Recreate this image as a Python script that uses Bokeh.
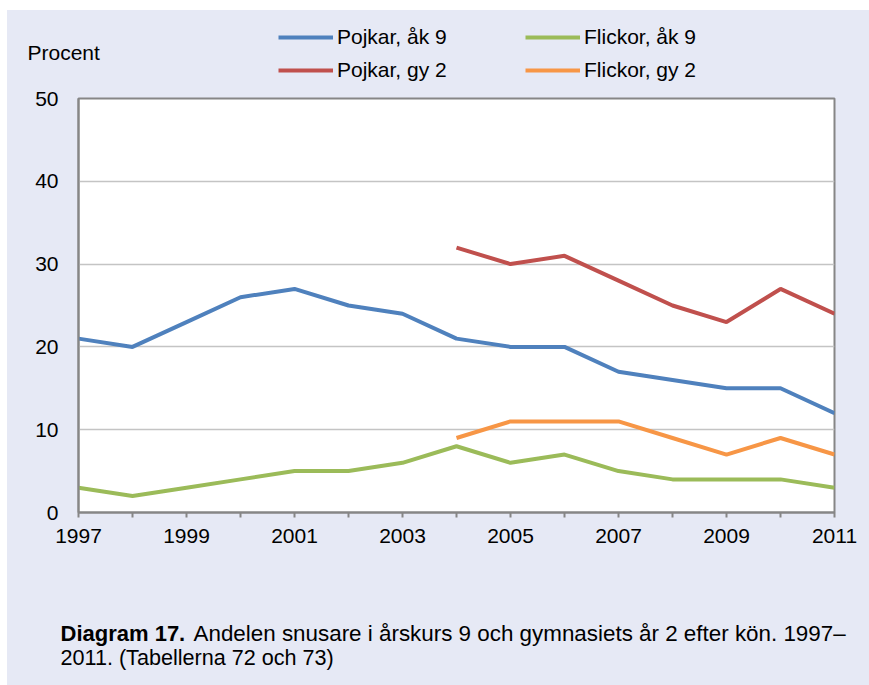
from bokeh.plotting import figure
from bokeh.layouts import column
from bokeh.models import Range1d, FixedTicker, Legend, LegendItem, Label
from bokeh.embed import file_html
from bokeh.resources import INLINE

years = [1997, 1998, 1999, 2000, 2001, 2002, 2003, 2004, 2005, 2006, 2007, 2008, 2009, 2010, 2011]
pojkar_ak9 = [21, 20, 23, 26, 27, 25, 24, 21, 20, 20, 17, 16, 15, 15, 12]
flickor_ak9 = [3, 2, 3, 4, 5, 5, 6, 8, 6, 7, 5, 4, 4, 4, 3]
years_gy = [2004, 2005, 2006, 2007, 2008, 2009, 2010, 2011]
pojkar_gy2 = [32, 30, 31, 28, 25, 23, 27, 24]
flickor_gy2 = [9, 11, 11, 11, 9, 7, 9, 7]

x_major = [1997, 1999, 2001, 2003, 2005, 2007, 2009, 2011]
x_minor = [1998, 2000, 2002, 2004, 2006, 2008, 2010]
y_ticks = [0, 10, 20, 30, 40, 50]

series_names = ["Pojkar, åk 9", "Flickor, åk 9", "Pojkar, gy 2", "Flickor, gy 2"]
series_colors = ["#4F81BD", "#9BBB59", "#C0504D", "#F79646"]

BG = "#E6E9F5"
FONT = "Liberation Sans"
GRAY = "#868686"
W = 4
TOTAL_W = 862

# ---------- header: legend + "Procent" ----------
head = figure(width=TOTAL_W, height=77, output_backend="svg", toolbar_location=None,
              x_axis_type=None, y_axis_type=None, min_border=0,
              x_range=Range1d(0, 1), y_range=Range1d(0, 1), frame_align=False)
head.border_fill_color = BG
head.background_fill_color = BG
head.outline_line_color = None
h_r = [head.line(years, pojkar_ak9, line_color=series_colors[0], line_width=W),
       head.line(years, flickor_ak9, line_color=series_colors[1], line_width=W),
       head.line(years_gy, pojkar_gy2, line_color=series_colors[2], line_width=W),
       head.line(years_gy, flickor_gy2, line_color=series_colors[3], line_width=W)]


def make_legend(items, loc):
    return Legend(items=items, location=loc, orientation="vertical",
                  background_fill_alpha=0, border_line_alpha=0,
                  padding=0, margin=0, spacing=9,
                  glyph_width=55, glyph_height=20, label_height=20,
                  label_standoff=4, label_text_font=FONT,
                  label_text_font_size="21px", label_text_color="black",
                  label_text_baseline="middle")


head.add_layout(make_legend([LegendItem(label=series_names[0], renderers=[h_r[0]]),
                             LegendItem(label=series_names[2], renderers=[h_r[2]])], (271, 5)))
head.add_layout(make_legend([LegendItem(label=series_names[1], renderers=[h_r[1]]),
                             LegendItem(label=series_names[3], renderers=[h_r[3]])], (518, 5)))
head.add_layout(Label(x=20, y=35, x_units="screen", y_units="screen", text="Procent",
                      text_font=FONT, text_font_size="21px", text_baseline="middle",
                      text_color="black"))

# ---------- main chart ----------
p = figure(width=TOTAL_W, height=513, output_backend="svg", toolbar_location=None,
           x_range=Range1d(1997, 2011), y_range=Range1d(0, 50), frame_align=False,
           min_border_left=71, min_border_right=35, min_border_top=11, min_border_bottom=88)
p.border_fill_color = BG
p.background_fill_color = "white"
p.outline_line_color = GRAY
p.outline_line_width = 2

p.xaxis.ticker = FixedTicker(ticks=x_major, minor_ticks=x_minor)
p.yaxis.ticker = FixedTicker(ticks=y_ticks)
for ax in (p.xaxis, p.yaxis):
    ax.axis_line_color = GRAY
    ax.axis_line_width = 2
    ax.major_label_text_font = FONT
    ax.major_label_text_font_size = "21px"
    ax.major_label_text_color = "black"
    ax.major_tick_in = 0
    ax.minor_tick_in = 0
p.xaxis.major_tick_out = 5
p.xaxis.minor_tick_out = 5
p.xaxis.major_tick_line_color = GRAY
p.xaxis.minor_tick_line_color = GRAY
p.xaxis.major_tick_line_width = 2
p.xaxis.minor_tick_line_width = 2
p.xaxis.major_label_standoff = 11
p.yaxis.major_tick_out = 0
p.yaxis.minor_tick_out = 0
p.yaxis.major_tick_line_color = None
p.yaxis.minor_tick_line_color = None
p.yaxis.major_label_standoff = 20

p.xgrid.grid_line_color = None
p.ygrid.grid_line_color = "#C4C4C4"
p.ygrid.grid_line_width = 1.5

p.line(years, pojkar_ak9, line_color=series_colors[0], line_width=W)
p.line(years, flickor_ak9, line_color=series_colors[1], line_width=W)
p.line(years_gy, pojkar_gy2, line_color=series_colors[2], line_width=W)
p.line(years_gy, flickor_gy2, line_color=series_colors[3], line_width=W)

# ---------- caption ----------
cap = figure(width=TOTAL_W, height=85, output_backend="svg", toolbar_location=None,
             x_axis_type=None, y_axis_type=None, min_border=0,
             x_range=Range1d(0, 1), y_range=Range1d(0, 1), frame_align=False)
cap.border_fill_color = BG
cap.background_fill_color = BG
cap.outline_line_color = None
cap.add_layout(Label(x=53, y=52, x_units="screen", y_units="screen", text="Diagram 17.",
                     text_font=FONT, text_font_size="22px", text_font_style="bold",
                     text_baseline="middle", text_color="black"))
cap.add_layout(Label(x=186, y=52, x_units="screen", y_units="screen",
                     text="Andelen snusare i årskurs 9 och gymnasiets år 2 efter kön. 1997–",
                     text_font=FONT, text_font_size="22.4px",
                     text_baseline="middle", text_color="black"))
cap.add_layout(Label(x=53, y=28, x_units="screen", y_units="screen",
                     text="2011. (Tabellerna 72 och 73)",
                     text_font=FONT, text_font_size="21.6px",
                     text_baseline="middle", text_color="black"))

layout = column(head, p, cap, spacing=0, margin=(10, 0, 0, 7),
                styles={"background-color": BG})
open("out.html", "w").write(file_html(layout, INLINE))
